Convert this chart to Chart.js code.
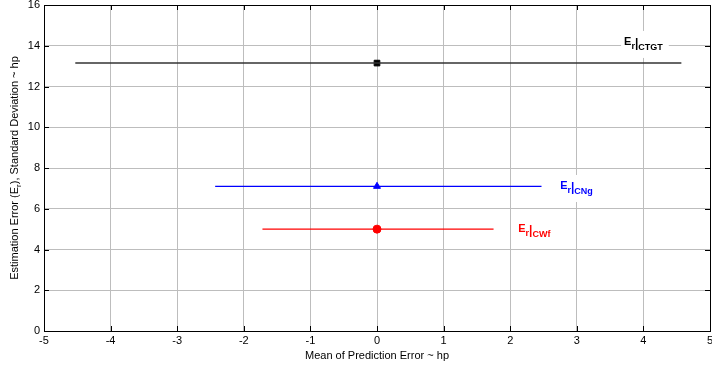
<!DOCTYPE html>
<html><head><meta charset="utf-8">
<script src="https://cdn.jsdelivr.net/npm/chart.js@4.4.0/dist/chart.umd.min.js"></script>
<style>html,body{margin:0;padding:0;background:#fff}#wrap{width:712px;height:366px}</style>
</head><body><div id="wrap"><canvas id="c" width="712" height="366"></canvas></div>
<script>
const seriesNames = ['CTGT', 'CNg', 'CWf'];
const seriesColors = ['#000000', '#0000ff', '#ff0000'];
const meanValues = [0, 0, 0];
const stdValues = [13.15, 7.1, 5.0];
const lowerX = [-4.53, -2.43, -1.72];
const upperX = [4.57, 2.47, 1.75];
const markerStyles = ['rect', 'triangle', 'circle'];
const xTicks = [-5, -4, -3, -2, -1, 0, 1, 2, 3, 4, 5];
const yTicks = [0, 2, 4, 6, 8, 10, 12, 14, 16];
const labelAnchorX = [3.71, 2.75, 2.12];
const labelAnchorY = [14.04, 6.97, 4.86];

const FONT = '"Liberation Sans", Arial, sans-serif';
const datasets = [];
seriesNames.forEach((n, i) => {
  datasets.push({
    label: 'range ' + n,
    data: [{x: lowerX[i], y: stdValues[i]}, {x: upperX[i], y: stdValues[i]}],
    showLine: true, borderColor: i === 0 ? '#333333' : seriesColors[i], borderWidth: i === 0 ? 1.6 : 1.3,
    pointRadius: 0, pointHoverRadius: 0
  });
  datasets.push({
    label: 'mean ' + n,
    data: [{x: meanValues[i], y: stdValues[i]}],
    showLine: false, pointStyle: markerStyles[i],
    pointRadius: i === 0 ? 4 : 4, backgroundColor: seriesColors[i], borderColor: seriesColors[i], borderWidth: 1
  });
});

function noPad(s) { s.paddingTop = 0; s.paddingBottom = 0; s.paddingLeft = 0; s.paddingRight = 0; }

function labelParts(n) {
  return [['E', 'bold 11px ', 0], ['r', 'bold 9px ', 4], ['|', 'bold 12px ', 2], [n, 'bold 9px ', 5]];
}
function labelWidth(ctx, n) {
  let w = 0;
  labelParts(n).forEach(p => { ctx.font = p[1] + FONT; w += ctx.measureText(p[0]).width; });
  return w;
}

const decor = {
  id: 'decor',
  beforeDatasetsDraw(chart) {
    const {ctx, scales: {x, y}} = chart;
    ctx.save();
    ctx.fillStyle = '#ffffff';
    seriesNames.forEach((n, i) => {
      const px = x.getPixelForValue(labelAnchorX[i]);
      const py = y.getPixelForValue(labelAnchorY[i]);
      const w = labelWidth(ctx, n);
      ctx.fillRect(px - 3, py - 14, w + 9, 27);
    });
    ctx.restore();
  },
  afterDraw(chart) {
    const {ctx, chartArea: a, scales: {x, y}} = chart;
    ctx.save();
    ctx.strokeStyle = '#000'; ctx.lineWidth = 1;
    ctx.strokeRect(Math.round(a.left) + 0.5, Math.round(a.top) + 0.5, Math.round(a.right - a.left), Math.round(a.bottom - a.top));
    ctx.beginPath();
    xTicks.forEach(v => { const px = Math.round(x.getPixelForValue(v)) + 0.5;
      ctx.moveTo(px, a.bottom); ctx.lineTo(px, a.bottom - 5);
      ctx.moveTo(px, a.top); ctx.lineTo(px, a.top + 5); });
    yTicks.forEach(v => { const py = Math.round(y.getPixelForValue(v)) + 0.5;
      ctx.moveTo(a.left, py); ctx.lineTo(a.left + 5, py);
      ctx.moveTo(a.right, py); ctx.lineTo(a.right - 5, py); });
    ctx.stroke();
    ctx.fillStyle = '#000';
    ctx.font = '11px ' + FONT;
    ctx.textAlign = 'center'; ctx.textBaseline = 'alphabetic';
    ctx.fillText('Mean of Prediction Error ~ hp', (a.left + a.right) / 2, 359);
    ctx.save();
    ctx.translate(18, (a.top + a.bottom) / 2);
    ctx.rotate(-Math.PI / 2);
    const p1 = 'Estimation Error (E', p2 = 'r', p3 = '), Standard Deviation ~ hp';
    ctx.font = '11px ' + FONT; const w1 = ctx.measureText(p1).width, w3 = ctx.measureText(p3).width;
    ctx.font = '8px ' + FONT; const w2 = ctx.measureText(p2).width;
    let sx = -(w1 + w2 + w3) / 2;
    ctx.textAlign = 'left';
    ctx.font = '11px ' + FONT; ctx.fillText(p1, sx, 0); sx += w1;
    ctx.font = '8px ' + FONT; ctx.fillText(p2, sx, 3); sx += w2;
    ctx.font = '11px ' + FONT; ctx.fillText(p3, sx, 0);
    ctx.restore();
    seriesNames.forEach((n, i) => {
      let px = x.getPixelForValue(labelAnchorX[i]);
      const py = y.getPixelForValue(labelAnchorY[i]);
      ctx.fillStyle = seriesColors[i]; ctx.textAlign = 'left';
      labelParts(n).forEach(p => {
        ctx.font = p[1] + FONT; ctx.fillText(p[0], px, py + p[2]); px += ctx.measureText(p[0]).width;
      });
    });
    ctx.restore();
  }
};

new Chart(document.getElementById('c'), {
  type: 'scatter',
  data: {datasets},
  plugins: [decor],
  options: {
    responsive: false, animation: false,
    layout: {autoPadding: false, padding: {top: 5, right: 2, left: 0, bottom: 0}},
    plugins: {legend: {display: false}, tooltip: {enabled: false}},
    scales: {
      x: {
        type: 'linear', min: -5, max: 5,
        afterBuildTicks(s) { s.ticks = xTicks.map(v => ({value: v})); },
        afterFit(s) { s.height = 35; noPad(s); },
        grid: {color: '#bdbdbd', lineWidth: 1, drawTicks: false},
        border: {display: true, color: '#000'},
        ticks: {color: '#000', font: {family: FONT, size: 11}, padding: 3, maxRotation: 0}
      },
      y: {
        type: 'linear', min: 0, max: 16,
        afterBuildTicks(s) { s.ticks = yTicks.map(v => ({value: v})); },
        afterFit(s) { s.width = 44; noPad(s); },
        grid: {color: '#bdbdbd', lineWidth: 1, drawTicks: false},
        border: {display: true, color: '#000'},
        ticks: {color: '#000', font: {family: FONT, size: 11}, padding: 4}
      }
    }
  }
});
</script></body></html>
